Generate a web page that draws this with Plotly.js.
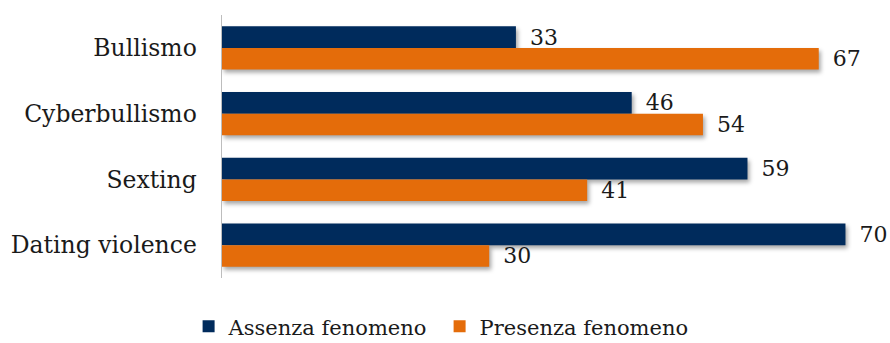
<!DOCTYPE html>
<html>
<head>
<meta charset="utf-8">
<script src="https://cdn.plot.ly/plotly-3.0.1.min.js"></script>
<style>
html,body{margin:0;padding:0;background:#fff;}
#chart{width:890px;height:343px;}
.barlayer .point path{filter:drop-shadow(2px 3px 2px rgba(0,0,0,0.35));}
</style>
</head>
<body>
<div id="chart"></div>
<script>
const categories = ["Bullismo", "Cyberbullismo", "Sexting", "Dating violence"];
const seriesNames = ["Assenza fenomeno", "Presenza fenomeno"];
const assenza = [33, 46, 59, 70];
const presenza = [67, 54, 41, 30];
const colors = ["#002B5C", "#E46C0A"];

const FAMILY = "DejaVu Serif";
const labelFont = {family: FAMILY, size: 22, color: "#1a1a1a"};

const traces = [assenza, presenza].map((vals, i) => ({
  type: "bar",
  orientation: "h",
  name: seriesNames[i],
  y: categories,
  x: vals,
  marker: {color: colors[i], line: {width: 0}},
  text: vals.map(v => String(v)),
  texttemplate: "\u2002%{text}",
  textposition: "outside",
  textfont: labelFont,
  cliponaxis: false,
  constraintext: "none",
  hoverinfo: "skip"
}));

const layout = {
  width: 890,
  height: 343,
  margin: {l: 222, r: 0, t: 15, b: 65, autoexpand: false},
  paper_bgcolor: "#ffffff",
  plot_bgcolor: "#ffffff",
  barmode: "group",
  bargap: 0.34,
  bargroupgap: 0,
  font: {family: FAMILY, color: "#1a1a1a"},
  xaxis: {range: [0, 75], visible: false, showgrid: false, zeroline: false, fixedrange: true},
  yaxis: {
    type: "category",
    categoryorder: "array",
    categoryarray: categories,
    autorange: "reversed",
    showline: true,
    linecolor: "#bdbdbd",
    linewidth: 1.5,
    showgrid: false,
    zeroline: false,
    ticks: "",
    ticklabelstandoff: 19,
    tickfont: {family: FAMILY, size: 23.5, color: "#1a1a1a"}
  },
  showlegend: true,
  legend: {
    orientation: "h",
    x: -0.05,
    xanchor: "left",
    y: -0.185,
    yanchor: "middle",
    entrywidth: 206,
    entrywidthmode: "pixels",
    font: {family: FAMILY, size: 21, color: "#1a1a1a"},
    traceorder: "normal",
    bgcolor: "rgba(0,0,0,0)"
  }
};

Plotly.newPlot("chart", traces, layout, {displayModeBar: false, staticPlot: true});
</script>
</body>
</html>
